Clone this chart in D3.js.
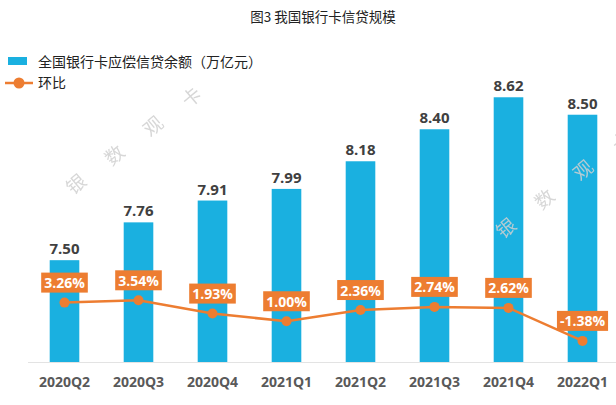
<!DOCTYPE html>
<html><head><meta charset="utf-8">
<script src="https://cdn.jsdelivr.net/npm/d3@7"></script>
<style>body{margin:0;background:#fff}svg{display:block}</style>
</head><body>
<svg id="c" width="616" height="405"></svg>
<script>
const categories = ["2020Q2","2020Q3","2020Q4","2021Q1","2021Q2","2021Q3","2021Q4","2022Q1"];
const balance = [7.50, 7.76, 7.91, 7.99, 8.18, 8.40, 8.62, 8.50];
const qoq = [3.26, 3.54, 1.93, 1.00, 2.36, 2.74, 2.62, -1.38];
const title = "图3 我国银行卡信贷规模";
const seriesNames = ["全国银行卡应偿信贷余额（万亿元）", "环比"];
const watermarkChars = ["银","数","观","卡"];

const BLUE = "#1AB0E0", ORANGE = "#ED7D31";
const FONT = "'Open Sans','Noto Sans CJK SC',sans-serif";
const CJK = "'Noto Sans CJK SC','Microsoft YaHei',sans-serif";
const svg = d3.select("#c");

const x = d3.scaleBand().domain(categories).range([5.3, 641.7]).padding(0.6);
const y = d3.scaleLinear().domain([6.8, 9.0]).range([362, 42]);
const y2 = d3.scaleLinear().domain([-4, 4]).range([362.5, 296.5]);

// title
svg.append("text").attr("x", 323).attr("y", 22).attr("text-anchor", "middle")
  .attr("font-family", CJK).attr("font-size", 13.5).attr("fill", "#222").text(title);

// legend
svg.append("rect").attr("x", 8).attr("y", 57).attr("width", 19).attr("height", 8).attr("fill", BLUE);
svg.append("text").attr("x", 38).attr("y", 67).attr("font-family", CJK).attr("font-size", 14).attr("fill", "#222").text(seriesNames[0]);
svg.append("line").attr("x1", 5).attr("x2", 33).attr("y1", 83).attr("y2", 83).attr("stroke", ORANGE).attr("stroke-width", 2.5);
svg.append("circle").attr("cx", 19).attr("cy", 83).attr("r", 5.5).attr("fill", ORANGE);
svg.append("text").attr("x", 38).attr("y", 88).attr("font-family", CJK).attr("font-size", 14).attr("fill", "#222").text(seriesNames[1]);

// baseline
svg.append("line").attr("x1", 28).attr("x2", 616).attr("y1", 362.5).attr("y2", 362.5).attr("stroke", "#e3e3e3").attr("stroke-width", 1);

// bars
svg.selectAll("rect.bar").data(balance).join("rect").attr("class", "bar")
  .attr("x", (d, i) => x(categories[i])).attr("width", x.bandwidth())
  .attr("y", d => y(d)).attr("height", d => y(6.8) - y(d)).attr("fill", BLUE);

// bar value labels
svg.selectAll("text.val").data(balance).join("text").attr("class", "val")
  .attr("x", (d, i) => x(categories[i]) + x.bandwidth() / 2).attr("y", d => y(d) - 6)
  .attr("text-anchor", "middle").attr("font-family", FONT).attr("font-weight", 700)
  .attr("font-size", 15).attr("fill", "#404040").text(d => d.toFixed(2));

// x axis labels
const xAxis = d3.axisBottom(x).tickSize(0).tickPadding(0);
const gx = svg.append("g").attr("transform", "translate(0,377)").call(xAxis);
gx.select(".domain").remove();
gx.selectAll("text").attr("font-family", FONT).attr("font-weight", 700).attr("font-size", 14).attr("fill", "#595959");

// watermark
const wm = svg.append("g").attr("font-family", CJK).attr("font-size", 19).attr("fill", "#d0d0d0").attr("opacity", 0.85);
[[75,183],[505,227]].forEach(([sx, sy]) => {
  watermarkChars.forEach((ch, k) => {
    const cx = sx + k * 38.5, cy = sy - k * 29;
    wm.append("text").attr("text-anchor", "middle").attr("dominant-baseline", "central")
      .attr("transform", `translate(${cx},${cy}) rotate(-40)`).text(ch);
  });
});

// line
const line = d3.line().x((d, i) => x(categories[i]) + x.bandwidth() / 2).y(d => y2(d));
svg.append("path").datum(qoq).attr("d", line).attr("fill", "none").attr("stroke", ORANGE).attr("stroke-width", 2.5);
svg.selectAll("circle.pt").data(qoq).join("circle").attr("class", "pt")
  .attr("cx", (d, i) => x(categories[i]) + x.bandwidth() / 2).attr("cy", d => y2(d)).attr("r", 5).attr("fill", ORANGE);

// pct labels
const lg = svg.selectAll("g.pl").data(qoq).join("g").attr("class", "pl")
  .attr("transform", (d, i) => `translate(${x(categories[i]) + x.bandwidth() / 2},${y2(d) - 20})`);
lg.append("text").attr("text-anchor", "middle").attr("dominant-baseline", "central")
  .attr("font-family", FONT).attr("font-weight", 700).attr("font-size", 14).attr("fill", "#fff")
  .text(d => d.toFixed(2) + "%");
lg.each(function () {
  const g = d3.select(this);
  const w = g.select("text").node().getComputedTextLength() + 6;
  g.insert("rect", "text").attr("x", -w / 2).attr("y", -10).attr("width", w).attr("height", 20).attr("fill", ORANGE);
});
</script>
</body></html>
